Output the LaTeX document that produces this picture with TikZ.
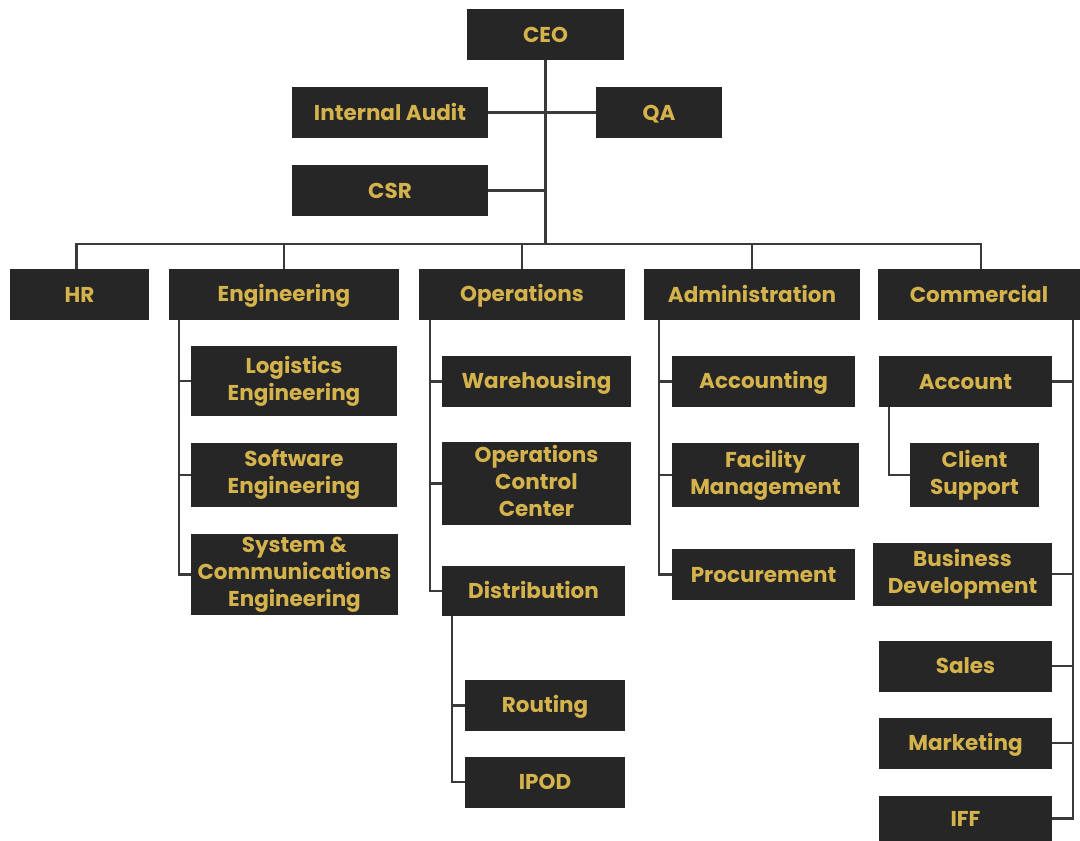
\documentclass[tikz,border=0pt]{standalone}
\usepackage{fontspec}
\setmainfont{Poppins}
\usepackage{xcolor}
\usepackage{tikz}
\usetikzlibrary{positioning}

\definecolor{boxgray}{HTML}{272627}
\definecolor{gold}{HTML}{D4B24C}
\definecolor{linegray}{HTML}{3A3A3A}

% strut so that every line sits at the same height in its box
\newcommand{\capstrut}{\rule[-5pt]{0pt}{25pt}}

\begin{document}
\begin{tikzpicture}[x=1pt, y=-1pt]
    % Define style for the boxes and links
    \tikzstyle{unitbox} = [fill=boxgray, text=gold, inner sep=0pt, align=center, font=\bfseries\fontsize{21.5}{27}\selectfont, execute at begin node=\capstrut, execute at end node=\capstrut]
    \tikzstyle{link} = [draw=linegray, line width=2.4pt]

    \useasboundingbox (0,0) rectangle (1080,841);

    % Top management
    \node [unitbox, minimum width=157, minimum height=51] (ceo) at (545.5,34.5) {CEO};
    \node [unitbox, minimum width=196, minimum height=51] (audit) at (390,112.5) {Internal Audit};
    \node [unitbox, minimum width=126, minimum height=51] (qa) at (659,112.5) {QA};
    \node [unitbox, minimum width=196, minimum height=51] (csr) at (390,190.5) {CSR};

    % Departments
    \node [unitbox, minimum width=139, minimum height=51] (hr) at (79.5,294.5) {HR};
    \node [unitbox, minimum width=230, minimum height=51] (eng) at (284,294.5) {Engineering};
    \node [unitbox, minimum width=206, minimum height=51] (ops) at (522,294.5) {Operations};
    \node [unitbox, minimum width=216, minimum height=51] (admin) at (752,294.5) {Administration};
    \node [unitbox, minimum width=202, minimum height=51] (comm) at (979,294.5) {Commercial};

    % Engineering units
    \node [unitbox, minimum width=206, minimum height=70] (logeng) at (294,381) {Logistics\\Engineering};
    \node [unitbox, minimum width=206, minimum height=64] (softeng) at (294,475) {Software\\Engineering};
    \node [unitbox, minimum width=207, minimum height=81] (syseng) at (294.5,574.5) {System \&\\Communications\\Engineering};

    % Operations units
    \node [unitbox, minimum width=189, minimum height=51] (wareh) at (536.5,381.5) {Warehousing};
    \node [unitbox, minimum width=189, minimum height=83] (occ) at (536.5,483.5) {Operations\\Control\\Center};
    \node [unitbox, minimum width=183, minimum height=50] (distr) at (533.5,591) {Distribution};
    \node [unitbox, minimum width=160, minimum height=51] (routing) at (545,705.5) {Routing};
    \node [unitbox, minimum width=160, minimum height=51] (ipod) at (545,782) {IPOD};

    % Administration units
    \node [unitbox, minimum width=183, minimum height=51] (acctg) at (763.5,381.5) {Accounting};
    \node [unitbox, minimum width=187, minimum height=64] (facility) at (765.5,475) {Facility\\Management};
    \node [unitbox, minimum width=183, minimum height=51] (procure) at (763.5,574.5) {Procurement};

    % Commercial units
    \node [unitbox, minimum width=173, minimum height=51] (account) at (965.5,381.5) {Account};
    \node [unitbox, minimum width=129, minimum height=64] (client) at (974.5,475) {Client\\Support};
    \node [unitbox, minimum width=179, minimum height=63] (bizdev) at (962.5,574) {Business\\Development};
    \node [unitbox, minimum width=173, minimum height=51] (sales) at (965.5,666) {Sales};
    \node [unitbox, minimum width=173, minimum height=51] (mkt) at (965.5,743) {Marketing};
    \node [unitbox, minimum width=173, minimum height=45] (iff) at (965.5,818.5) {IFF};

    % Links from the CEO
    \coordinate (bus) at (545.5,244);
    \draw [link] (ceo.south) -- (bus);
    \draw [link] (audit.east) -- (qa.west);
    \draw [link] (csr.east) -- (csr.east -| ceo.south);
    \draw [link] ([xshift=-3]hr.north) |- (bus);
    \draw [link] ([xshift=2]comm.north) |- (bus);
    \draw [link] (eng.north) |- (bus);
    \draw [link] (ops.north) |- (bus);
    \draw [link] (admin.north) |- (bus);

    % Links inside the departments
    \draw [link] ([xshift=10]eng.south west) |- (logeng.west);
    \draw [link] ([xshift=10]eng.south west) |- (softeng.west);
    \draw [link] ([xshift=10]eng.south west) |- (syseng.west);

    \draw [link] ([xshift=11]ops.south west) |- (wareh.west);
    \draw [link] ([xshift=11]ops.south west) |- (occ.west);
    \draw [link] ([xshift=11]ops.south west) |- (distr.west);
    \draw [link] ([xshift=10]distr.south west) |- (routing.west);
    \draw [link] ([xshift=10]distr.south west) |- (ipod.west);

    \draw [link] ([xshift=15]admin.south west) |- (acctg.west);
    \draw [link] ([xshift=15]admin.south west) |- (facility.west);
    \draw [link] ([xshift=15]admin.south west) |- (procure.west);

    \draw [link] ([xshift=-7]comm.south east) |- (account.east);
    \draw [link] ([xshift=-7]comm.south east) |- (bizdev.east);
    \draw [link] ([xshift=-7]comm.south east) |- (sales.east);
    \draw [link] ([xshift=-7]comm.south east) |- (mkt.east);
    \draw [link] ([xshift=-7]comm.south east) |- (iff.east);
    \draw [link] ([xshift=10]account.south west) |- (client.west);
\end{tikzpicture}
\end{document}
